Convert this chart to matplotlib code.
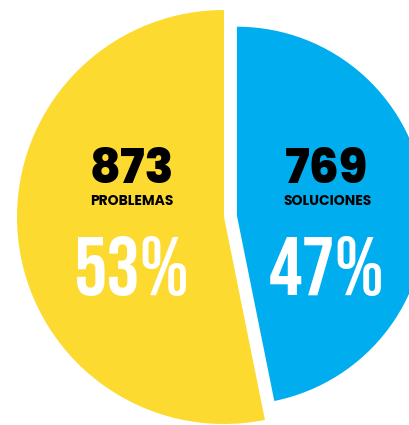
import matplotlib
matplotlib.use("Agg")
import matplotlib.pyplot as plt

labels = ["PROBLEMAS", "SOLUCIONES"]
counts = [873, 769]
percents = ["53%", "47%"]
colors = ["#FDDA30", "#00AEEF"]

W, H = 409, 425
fig = plt.figure(figsize=(W / 100, H / 100), dpi=100)
ax = fig.add_axes([0, 0, 1, 1])

# pie in pixel-like data units (y up); explode is in data units here
wedges, _ = ax.pie(counts, colors=colors, startangle=90, counterclock=True,
                   radius=207, center=(224, 208), explode=[0, 13],
                   wedgeprops=dict(linewidth=0))
wedges[1].set_radius(189)

ax.set_xlim(0, W)
ax.set_ylim(0, H)
ax.set_aspect("equal")
ax.axis("off")

xs = [132, 327]
for x, n, lab, p in zip(xs, counts, labels, percents):
    ax.text(x, 242, str(n), ha="center", va="baseline", fontsize=34,
            fontweight=800, family=["Poppins", "DejaVu Sans"], color="black")
    ax.text(x, 220, lab, ha="center", va="baseline", fontsize=10,
            fontweight="bold", family=["Poppins", "DejaVu Sans"], color="black")
    ax.text(x, 130, p, ha="center", va="baseline", fontsize=60,
            family=["Bebas Neue", "DejaVu Sans"], color="white")

fig.savefig("out.png", dpi=100)
